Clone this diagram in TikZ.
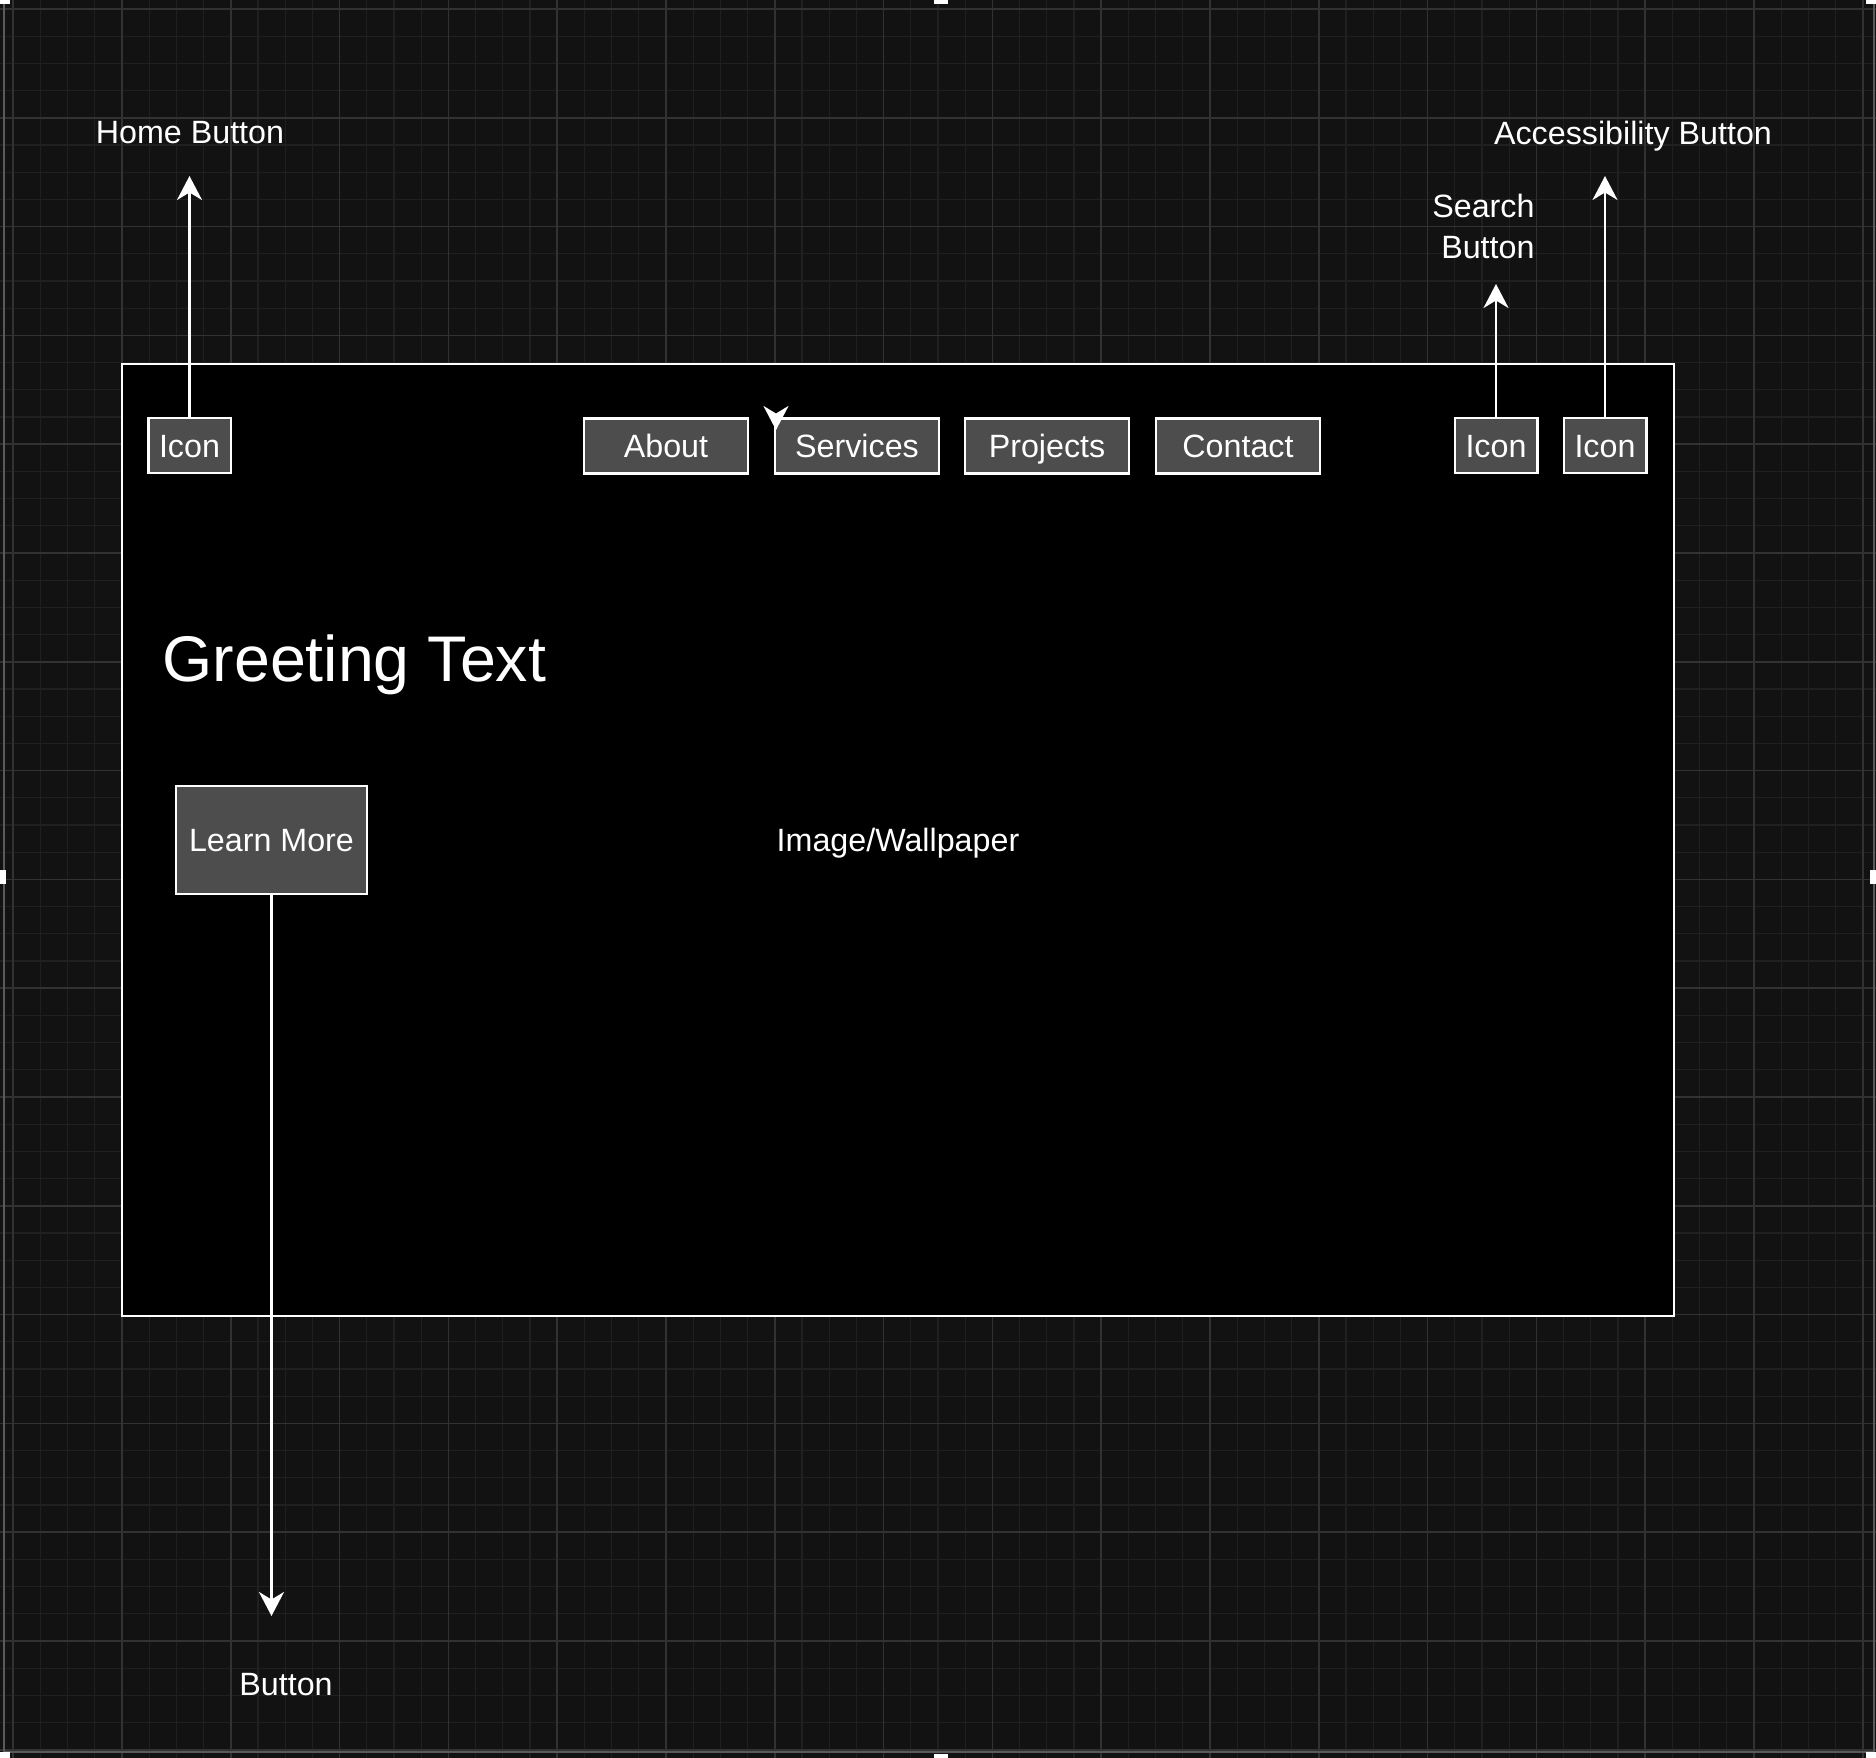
\documentclass[tikz,border=0pt]{standalone}
\usepackage{fontspec}
\setmainfont{Liberation Sans}
\usetikzlibrary{arrows.meta}
\definecolor{bg}{HTML}{121212}
\definecolor{minorc}{HTML}{202020}
\definecolor{majorc}{HTML}{323232}
\definecolor{edgec}{HTML}{5A5A5A}
\definecolor{btngray}{HTML}{4D4D4D}
\tikzset{
  minorgrid/.style={draw=minorc, line width=0.5pt},
  majorgrid/.style={draw=majorc, line width=0.6pt},
  screenbox/.style={draw=white, fill=black, line width=0.9pt, inner sep=0pt,
    minimum width=620.8pt, minimum height=380.8pt, text=white,
    font=\fontsize{12.9}{15}\selectfont, text height=9.24pt, text depth=0pt},
  btn/.style={draw=white, fill=btngray, line width=1pt, inner sep=0pt, text=white,
    font=\fontsize{12.9}{15}\selectfont, text height=9.24pt, text depth=0pt,
    minimum height=22pt},
  iconbtn/.style={btn, minimum width=33pt},
  navbtn/.style={btn, minimum width=65.6pt},
  lbl/.style={text=white, inner sep=0pt, font=\fontsize{12.9}{16.4}\selectfont},
  arr/.style={draw=white, line width=1pt, -{Stealth[length=9.6pt,width=10pt,inset=3pt]}},
  handle/.style={fill=white}
}
\begin{document}
\begin{tikzpicture}[x=0.4pt,y=-0.4pt]
\useasboundingbox (0,0) rectangle (1876,1758);
\fill[bg] (0,0) rectangle (1876,1758);
\begin{scope}
\clip (0,0) rectangle (1876,1758);
\foreach \i in {-4,...,64} {
  \pgfmathsetmacro\xx{122+27.2*\i}
  \draw[minorgrid] (\xx,0) -- (\xx,1758);
}
\foreach \j in {0,...,64} {
  \pgfmathsetmacro\yy{9+27.2*\j}
  \draw[minorgrid] (0,\yy) -- (1876,\yy);
}
\foreach \i in {-1,...,16} {
  \pgfmathsetmacro\xx{122+108.8*\i}
  \draw[majorgrid] (\xx,0) -- (\xx,1758);
}
\foreach \j in {0,...,16} {
  \pgfmathsetmacro\yy{9+108.8*\j}
  \draw[majorgrid] (0,\yy) -- (1876,\yy);
}
\end{scope}
% screenshot edges and handles
\draw[edgec, line width=0.6pt] (4,4) -- (4,1752) -- (1874,1752) -- (1874,4);
\fill[handle] (0,0) rectangle (10,4);
\fill[handle] (934,0) rectangle (948,4);
\fill[handle] (1866,0) rectangle (1876,4);
\fill[handle] (0,870) rectangle (6,884);
\fill[handle] (1870,870) rectangle (1876,884);
\fill[handle] (0,1752) rectangle (10,1758);
\fill[handle] (934,1754) rectangle (948,1758);
\fill[handle] (1866,1752) rectangle (1876,1758);

% main screen
\node[screenbox] (screen) at (898,840) {Image/Wallpaper};

% top bar
\node[iconbtn] (home) at (189.5,445.5) {Icon};
\node[navbtn] (about) at (666,446) {About};
\node[navbtn] (svc) at (857,446) {Services};
\node[navbtn] (proj) at (1047,446) {Projects};
\node[navbtn] (cont) at (1238,446) {Contact};
\node[iconbtn] (search) at (1496,445.5) {Icon};
\node[iconbtn] (access) at (1605,445.5) {Icon};

% greeting and button
\node[text=white, inner sep=0pt, anchor=base west, font=\fontsize{25.8}{30}\selectfont] (greet) at (162,682) {Greeting Text};
\node[btn, minimum width=76.4pt, minimum height=43.2pt] (learn) at (271.5,840) {Learn More};

% labels
\node[lbl, anchor=base] (homelbl) at (190,144) {Home Button};
\node[lbl, anchor=base] (acclbl) at (1633,145) {Accessibility Button};
\node[lbl, align=right, anchor=east] (searchlbl) at (1535,226.5) {Search\\Button};
\node[lbl, anchor=base] (btnlbl) at (286,1695) {Button};

% connector ends
\coordinate (homeTip) at (189.5,176);
\coordinate (searchTip) at (1496,284);
\coordinate (accessTip) at (1605,176);
\coordinate (learnTip) at (271.5,1616);
\coordinate (strayStart) at (776,429);
\coordinate (strayTip) at (776,430);

\draw[arr] (home.north) -- (homeTip);
\draw[arr] (search.north) -- (searchTip);
\draw[arr] (access.north) -- (accessTip);
\draw[arr] (learn.south) -- (learnTip);
\draw[arr] (strayStart) -- (strayTip);
\end{tikzpicture}
\end{document}
